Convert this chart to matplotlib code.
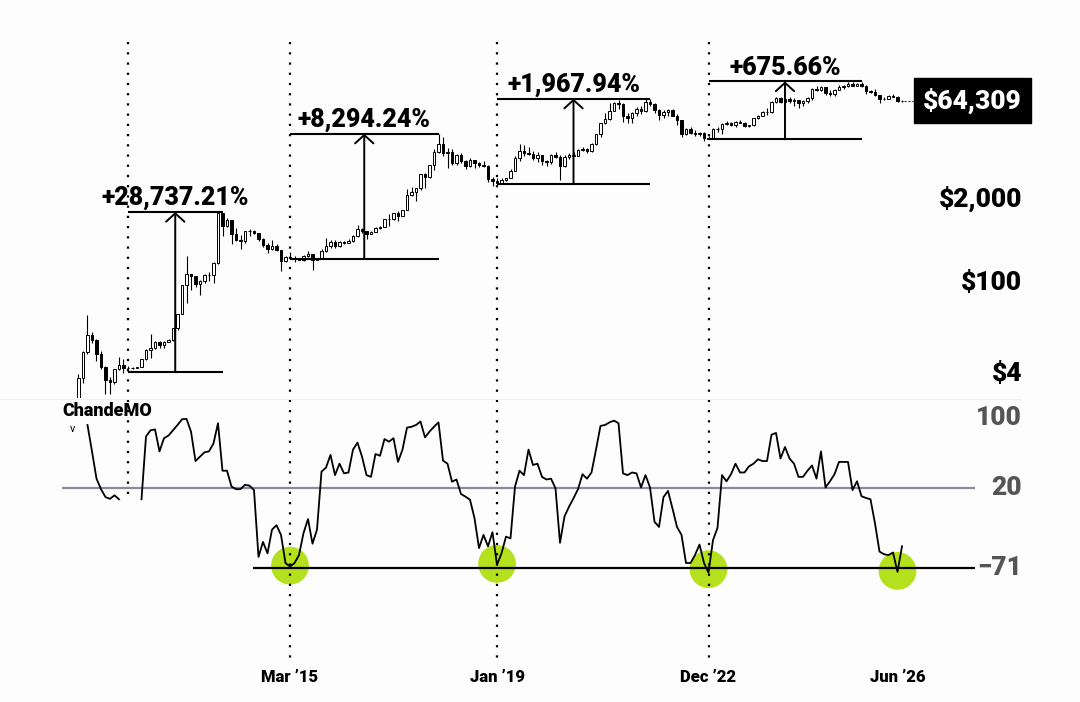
import numpy as np
import pandas as pd
import matplotlib
matplotlib.use("Agg")
import matplotlib.pyplot as plt
import matplotlib.transforms as mtransforms
from matplotlib.lines import Line2D

# ---------------- data (monthly BTC candles, Apr 2011 .. Jul 2026) ----------------
months = pd.date_range("2011-04-01", periods=184, freq="MS")

opens = [
    0.78, 3.5, 8.7, 16.1, 13.4, 8.2, 5.1, 3.25, 2.97,
    4.72, 5.5, 4.9, 4.9, 5.0, 5.2, 6.7, 9.4, 10.2, 12.4, 11.2, 12.6,
    13.5, 20.4, 33.4, 93, 139, 129, 97, 106, 135, 133, 204, 1180,
    754, 935, 570, 458, 445, 628, 640, 586, 477, 386, 338, 378,
    320, 217, 254, 244, 236, 230, 263, 284, 230, 236, 314, 378,
    430, 368, 437, 416, 448, 531, 673, 624, 573, 608, 700, 743,
    964, 970, 1190, 1080, 1350, 2300, 2480, 2875, 4700, 4340, 6470, 10230,
    13860, 10220, 10400, 6970, 9250, 7500, 6400, 7730, 7030, 6630, 6370, 4040,
    3740, 3460, 3850, 4100, 5350, 8560, 10820, 10090, 9630, 8290, 9200, 7570,
    7190, 9350, 8600, 6440, 8660, 9460, 9140, 11350, 11650, 10780, 13800, 19700,
    28990, 33110, 45140, 58800, 57750, 37330, 35040, 41460, 47100, 43800, 61300, 57000,
    46200, 38500, 43200, 45500, 37700, 31800, 19900, 23300, 20050, 19430, 20500, 17170,
    16550, 23140, 23150, 28480, 29230, 27220, 30480, 29230, 25940, 26970, 34650, 37720,
    42280, 42580, 61130, 71290, 60640, 67490, 62680, 64620, 58970, 63330, 70220, 96410,
    93430, 102400, 84350, 82550, 94200, 104600, 107100, 115760, 108240, 114050, 109560, 90400,
    87500, 78600, 66900, 68800, 75500, 74000, 62500,
]
highs = [
    4.0, 9.0, 31.9, 17.5, 14.0, 8.9, 5.3, 3.6, 4.8,
    7.4, 6.7, 5.4, 5.2, 5.2, 6.7, 9.7, 16.4, 12.9, 12.9, 12.7, 14.0,
    20.6, 33.4, 95, 266, 140, 130, 111, 140, 147, 215, 1242, 1165,
    1022, 940, 700, 550, 640, 680, 650, 600, 490, 412, 458, 400,
    320, 265, 300, 262, 247, 267, 315, 284, 243, 333, 500, 468,
    460, 443, 440, 470, 548, 780, 704, 626, 627, 740, 755, 980,
    1150, 1200, 1290, 1350, 2760, 2980, 2930, 4750, 4980, 6470, 11500, 19780,
    17700, 11800, 11700, 9750, 9990, 7760, 8480, 7760, 7400, 7680, 6550, 4300,
    4110, 4190, 4140, 5640, 9070, 13880, 13130, 12330, 10900, 10370, 9520, 7750,
    9580, 10500, 9200, 9440, 10080, 10380, 11440, 12480, 12070, 14100, 19860, 29300,
    41950, 58350, 61780, 64860, 59590, 41300, 42300, 50500, 52900, 67000, 69000, 59100,
    47900, 45800, 48200, 47400, 40000, 31900, 24700, 25200, 22800, 21100, 21450, 18400,
    23950, 25250, 29200, 31000, 29820, 31400, 31800, 30200, 27500, 35200, 38400, 44700,
    48970, 64000, 73750, 72700, 71950, 71950, 70000, 65600, 66500, 73600, 99600, 108300,
    109300, 102500, 95000, 95750, 111900, 110500, 123200, 124500, 117900, 126200, 110600, 94500,
    97900, 79500, 74000, 79000, 80000, 76000, 66500,
]
lows = [
    0.56, 2.9, 8.0, 12.0, 6.3, 4.7, 2.0, 2.0, 2.8,
    4.6, 4.1, 4.3, 4.7, 4.9, 5.2, 6.6, 7.1, 9.8, 9.9, 10.1, 12.5,
    13.1, 19.1, 33, 50, 79, 87, 65, 100, 109, 101, 198, 522,
    740, 400, 440, 340, 420, 525, 565, 445, 360, 290, 320, 310,
    152, 210, 240, 212, 226, 218, 254, 162, 225, 236, 300, 351,
    353, 365, 400, 412, 436, 520, 590, 480, 562, 605, 680, 740,
    755, 940, 890, 1060, 1350, 2200, 1830, 2670, 2950, 4110, 5500, 10200,
    9100, 6000, 6600, 6500, 7050, 5750, 6120, 5880, 6100, 6200, 3650, 3130,
    3400, 3390, 3730, 4080, 5330, 7510, 9070, 9350, 7730, 7300, 6530, 6430,
    6870, 8450, 3850, 6150, 8110, 8920, 8980, 10900, 9880, 10400, 13200, 17600,
    28130, 32300, 45000, 47000, 30000, 28800, 29300, 37330, 39600, 43300, 53300, 42000,
    32900, 34300, 37200, 37600, 26700, 17600, 18800, 19600, 18200, 18200, 15500, 16300,
    16500, 21400, 19550, 26950, 25800, 24800, 28900, 25300, 24900, 26550, 34100, 37600,
    38500, 41900, 59000, 59200, 56550, 58400, 53500, 49100, 52550, 58900, 66800, 90500,
    89200, 78200, 76600, 74500, 93400, 98200, 105300, 107300, 107300, 103500, 80600, 84500,
    75500, 60000, 65000, 67000, 72000, 61000, 61500,
]
closes = [
    3.5, 8.7, 16.1, 13.4, 8.2, 5.1, 3.25, 2.97, 4.72,
    5.5, 4.9, 4.9, 5.0, 5.2, 6.7, 9.4, 10.2, 12.4, 11.2, 12.6, 13.5,
    20.4, 33.4, 93, 139, 129, 97, 106, 135, 133, 204, 1180, 754,
    935, 570, 458, 445, 628, 640, 586, 477, 386, 338, 378, 320,
    217, 254, 244, 236, 230, 263, 284, 230, 236, 314, 378, 430,
    368, 437, 416, 448, 531, 673, 624, 573, 608, 700, 743, 964,
    970, 1190, 1080, 1350, 2300, 2480, 2875, 4700, 4340, 6470, 10230, 13860,
    10220, 10400, 6970, 9250, 7500, 6400, 7730, 7030, 6630, 6370, 4040, 3740,
    3460, 3850, 4100, 5350, 8560, 10820, 10090, 9630, 8290, 9200, 7570, 7190,
    9350, 8600, 6440, 8660, 9460, 9140, 11350, 11650, 10780, 13800, 19700, 28990,
    33110, 45140, 58800, 57750, 37330, 35040, 41460, 47100, 43800, 61300, 57000, 46200,
    38500, 43200, 45500, 37700, 31800, 19900, 23300, 20050, 19430, 20500, 17170, 16550,
    23140, 23150, 28480, 29230, 27220, 30480, 29230, 25940, 26970, 34650, 37720, 42280,
    42580, 61130, 71290, 60640, 67490, 62680, 64620, 58970, 63330, 70220, 96410, 93430,
    102400, 84350, 82550, 94200, 104600, 107100, 115760, 108240, 114050, 109560, 90400, 87500,
    78600, 66900, 68800, 75500, 74000, 62500, 64309,
]
nan = np.nan
cmo = [
    nan, nan, 92, 62, 31, 19, 10, 8, 12,
    7.5, nan, nan, nan, nan, 7.5, 79, 86, 87, 62, 77, 80,
    86, 92, 98.5, 99, 84.5, 51, 56, 61, 62, 71, 94, 40,
    40, 22, 19, 19, 24, 23, 18, -58, -41, -54, -27, -22,
    -33, -65, -69, -65, -56, -31, -15, -43, -27, 39, 43.5, 58,
    35, 48, 37, 38, 64, 72, 56, 35, 33, 59, 57, 76,
    73, 77, 50, 64, 89, 90, 92, 96, 78, 84.5, 90, 95,
    51.5, 48, 27.5, 30, 13.5, 10.5, 7, -14, -48, -33, -46, -30,
    -67, -54, -35, -37, 22, 40, 35, 64, 46.5, 48, 33, 30,
    31, 20, -42, -12, -1, 8.6, 19, 36, 31, 38, 64, 91,
    92, 95, 97, 94, 37, 35, 38, 37, 21, 35, 21, -18,
    -24, 10, 17, -3, -24, -33, -65, -65, -56, -44, -65, -76,
    -39, -25, 35, 28, 36, 48, 38, 38, 45, 48, 53, 51,
    51, 81, 83, 54, 67, 54, 48, 33, 33, 40, 46, 31,
    62, 21, 28, 36, 50, 50, 50, 18, 28, 11, 9, 7.5,
    -20, -52, -55, -56, -53, -75, -46,
]

cycle_dates = ["2012-03", "2015-03", "2019-01", "2022-12"]
peak_dates = ["2013-12", "2017-12", "2021-11", "2025-10"]
base_prices = [4.31, 237, 3326, 16300]
top_prices = [1242, 19900, 68800, 126500]
gain_labels = ["+28,737.21%", "+8,294.24%", "+1,967.94%", "+675.66%"]

circle_dates = ["2015-03", "2019-01", "2022-12", "2026-06"]
circle_values = [-68, -66, -72, -74]
tick_dates = ["2015-03", "2019-01", "2022-12", "2026-06"]
tick_labels = ["Mar \u201915", "Jan \u201919", "Dec \u201922", "Jun \u201926"]

price_levels = [4, 100, 2000]
price_level_labels = ["$4", "$100", "$2,000"]
last_price = 64309
last_price_label = "$64,309"
cmo_levels = [100, 20, -71]
cmo_level_labels = ["100", "20", "\u221271"]
indicator_name = "ChandeMO"

# ---------------- layout helpers ----------------
W, H = 1080, 702
X0, DX = 78.5, 4.5          # pixel of first candle, pixels per month


def px2i(px):
    return (px - X0) / DX


def idx(date):
    return int(months.get_loc(pd.Timestamp(date + "-01")))


plt.rcParams["font.family"] = ["Roboto", "DejaVu Sans"]
BG = "#fdfdfd"
HEAVY = "black"
fig = plt.figure(figsize=(W / 100, H / 100), dpi=100, facecolor=BG)

# top (price) axes: pixel rows 30..398, 65 px per decade, $4 at row 374
ax = fig.add_axes([0, (H - 398) / H, 1, (398 - 30) / H])
ax.set_facecolor("none")
ax.set_yscale("log")
l4 = np.log10(4)
ax.set_ylim(10 ** (l4 - (398 - 374) / 65), 10 ** (l4 + (374 - 30) / 65))
ax.set_xlim(px2i(0), px2i(W))
ax.axis("off")

# bottom (CMO) axes: rows 400..655, value 20 at row 488.3, 0.879 px per unit
axb = fig.add_axes([0, (H - 655) / H, 1, (655 - 400) / H])
axb.set_facecolor("none")
k = 0.879
axb.set_ylim(20 - (655 - 488.3) / k, 20 + (488.3 - 400) / k)
axb.set_xlim(px2i(0), px2i(W))
axb.axis("off")

# ---------------- candles ----------------
xs = np.arange(len(months))
o = np.array(opens, float)
c = np.array(closes, float)
h = np.array(highs, float)
lo = np.array(lows, float)
up = c >= o
ax.vlines(xs, lo, h, color="black", lw=0.8, zorder=2)
bottoms = np.minimum(o, c)
heights = np.abs(c - o)
ax.bar(xs[up], heights[up], bottom=bottoms[up], width=0.62,
       color="white", edgecolor="black", linewidth=0.7, zorder=3)
ax.bar(xs[~up], heights[~up], bottom=bottoms[~up], width=0.62,
       color="black", edgecolor="black", linewidth=0.7, zorder=3)

# ---------------- cycle measurements ----------------
for sd, pd_, b, t, lab in zip(cycle_dates, peak_dates, base_prices, top_prices, gain_labels):
    i0, i1 = idx(sd), idx(pd_)
    mid = (i0 + i1) / 2
    ax.hlines([b, t], i0, i1, color="black", lw=1.5, zorder=4)
    ax.annotate("", xy=(mid, t), xytext=(mid, b),
                arrowprops=dict(arrowstyle="->,head_length=0.5,head_width=0.55",
                                lw=1.4, color="black", mutation_scale=12,
                                shrinkA=0, shrinkB=0), zorder=4)
    ax.annotate(lab, xy=(mid, t), xytext=(0, 5), textcoords="offset points",
                ha="center", va="baseline", fontsize=18, fontweight=HEAVY,
                color="black", zorder=5)

# ---------------- right-hand price labels ----------------
trans_r = mtransforms.blended_transform_factory(ax.transAxes, ax.transData)
for v, lab in zip(price_levels, price_level_labels):
    ax.text(1022 / W, v, lab, transform=trans_r, ha="right", va="center",
            fontsize=19, fontweight=HEAVY, color="black")
ax.text(1022 / W, last_price, last_price_label, transform=trans_r, ha="right",
        va="center", fontsize=19, fontweight=HEAVY, color="white",
        bbox=dict(boxstyle="square,pad=0.35", fc="black", ec="black"))
ax.plot([xs[-1] + 0.5, px2i(914)], [last_price, last_price], color="#333333",
        lw=0.8, ls=(0, (2, 1.5)), zorder=2)

# ---------------- dotted cycle lines ----------------
trans_v = mtransforms.blended_transform_factory(ax.transData, fig.transFigure)
for n, sd in enumerate(cycle_dates):
    y_end = 497 if n == 0 else 660
    fig.add_artist(Line2D([idx(sd), idx(sd)], [1 - 42 / H, 1 - y_end / H],
                          transform=trans_v, color="black", lw=1.6,
                          ls=(0, (1, 3.6)), zorder=1))

# faint separator
fig.add_artist(Line2D([0, 1020 / W], [1 - 398.5 / H] * 2, transform=fig.transFigure,
                      color="#efefef", lw=0.8))

# ---------------- CMO panel ----------------
axb.hlines(20, px2i(62), px2i(975), color="#8a8a98", lw=1.6, zorder=2)
axb.hlines(-71, px2i(253), px2i(975), color="black", lw=1.6, zorder=2)
cmo_arr = np.array(cmo, float)
cx = [idx(d) for d in circle_dates]
axb.scatter(cx, circle_values, s=740, color="#b4e01e", edgecolors="none", zorder=1)
axb.plot(xs, cmo_arr, color="black", lw=1.3, zorder=3)

trans_rb = mtransforms.blended_transform_factory(axb.transAxes, axb.transData)
for v, lab in zip(cmo_levels, cmo_level_labels):
    axb.text(1022 / W, v, lab, transform=trans_rb, ha="right", va="center",
             fontsize=19, fontweight=HEAVY, color="#555555")

fig.text(62 / W, 1 - 411 / H, indicator_name, ha="left", va="center",
         fontsize=13, fontweight=HEAVY, color="black")
fig.text(73 / W, 1 - 429 / H, "v", ha="center", va="center", fontsize=8,
         color="black")

# ---------------- x tick labels ----------------
trans_x = mtransforms.blended_transform_factory(axb.transData, fig.transFigure)
for d, lab in zip(tick_dates, tick_labels):
    axb.text(idx(d), 1 - 677 / H, lab, transform=trans_x, ha="center",
             va="center", fontsize=12, fontweight=HEAVY, color="black")

fig.savefig("out.png", dpi=100, facecolor=BG)
